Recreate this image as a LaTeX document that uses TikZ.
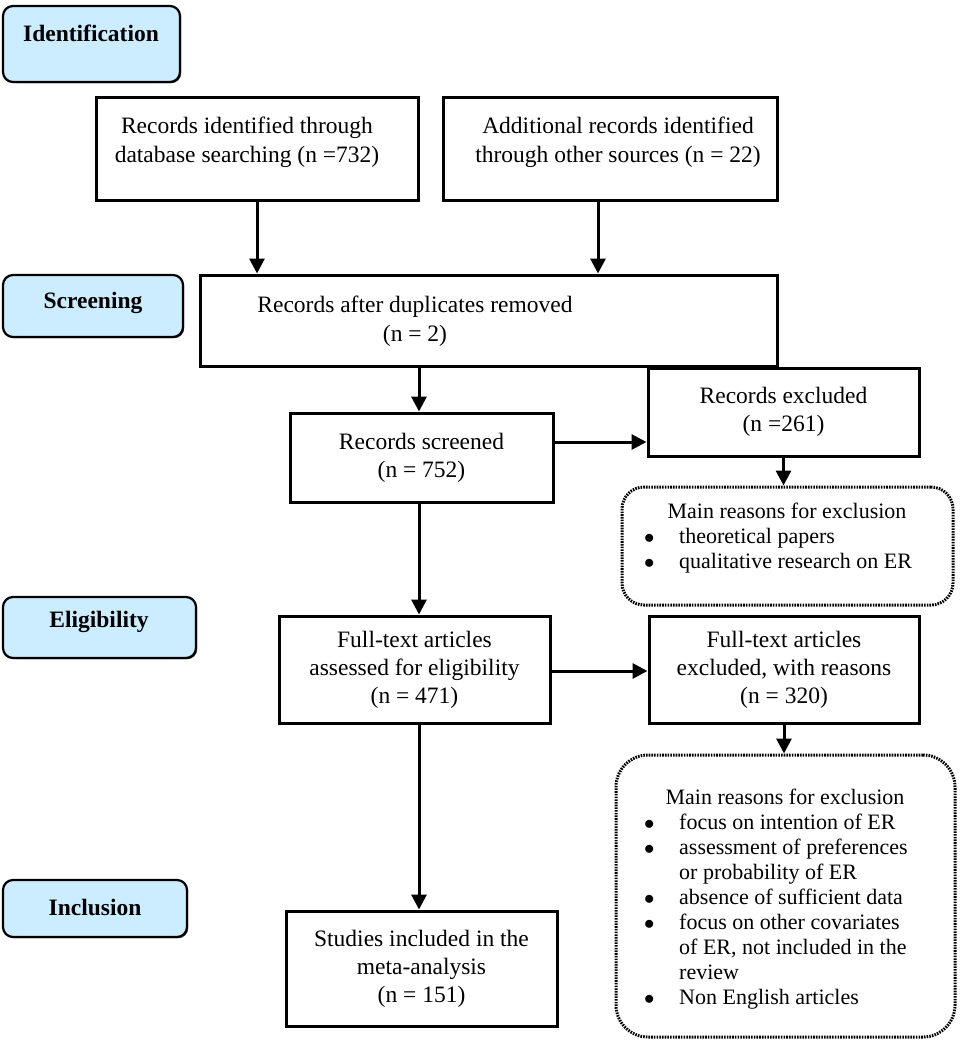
\documentclass[tikz,border=0pt]{standalone}
\usepackage{fontspec}
\setmainfont{Liberation Serif}
\usetikzlibrary{arrows.meta,calc,shadows}
\definecolor{stageblue}{RGB}{204,236,255}
\begin{document}
\begin{tikzpicture}[x=1pt,y=-1pt,
  box/.style={draw, line width=3pt, rectangle, inner sep=0pt, align=center,
    font=\fontsize{23.5}{28}\selectfont},
  txt/.style={align=center, font=\fontsize{23.5}{29}\selectfont, inner sep=0pt},
  stage/.style={draw, line width=2.2pt, rounded corners=10pt, fill=stageblue, inner sep=0pt,
    drop shadow={shadow xshift=1.2pt, shadow yshift=-1.2pt, fill=black!80, opacity=1}},
  stagetxt/.style={font=\fontsize{23.5}{28}\selectfont\bfseries, inner sep=0pt},
  dotbox/.style={draw, line width=3pt, dash pattern=on 1.6pt off 1.1pt, inner sep=0pt},
  dottxt/.style={font=\fontsize{22}{25}\selectfont, inner sep=0pt},
  arr/.style={line width=3pt, -{Triangle[length=15pt,width=15pt]}}]
\useasboundingbox (0,0) rectangle (964,1045);

% stage labels
\node[stage, minimum width=177pt, minimum height=76pt] (s1) at (91.5,44) {};
\node[stagetxt] (s1t) at (91,33) {Identification};
\node[stage, minimum width=180pt, minimum height=62pt] (s2) at (93,306) {};
\node[stagetxt] (s2t) at (93,303) {Screening};
\node[stage, minimum width=193pt, minimum height=61pt] (s3) at (99.5,627.5) {};
\node[stagetxt] (s3t) at (99,622) {Eligibility};
\node[stage, minimum width=184pt, minimum height=57pt] (s4) at (95,908.5) {};
\node[stagetxt] (s4t) at (95,907) {Inclusion};

% boxes
\node[box, minimum width=322pt, minimum height=103pt] (a) at (257,148.5) {};
\node[txt] (at) at (247,142) {Records identified through\\database searching (n =732)};
\node[box, minimum width=334pt, minimum height=103pt] (b) at (610,148.5) {};
\node[txt] (bt) at (618,142) {Additional records identified\\through other sources (n = 22)};
\node[box, minimum width=577pt, minimum height=91pt] (c) at (488.5,320.5) {};
\node[txt] (ct) at (415,321) {Records after duplicates removed\\(n = 2)};
\node[box, minimum width=263pt, minimum height=89pt] (d) at (421.5,457.5) {Records screened\\(n = 752)};
\node[box, minimum width=271pt, minimum height=88pt] (e) at (783.5,412) {Records excluded\\(n =261)};
\node[dotbox, rounded corners=22pt, minimum width=331pt, minimum height=118pt] (f) at (787.5,546) {};
\node[dottxt, anchor=base] (fh) at (787,518) {Main reasons for exclusion};
\node[dottxt, anchor=base west] (fl) at (644,543) {\begin{tabular}[t]{@{}p{35pt}@{}l@{}}
$\bullet$ & theoretical papers\\
$\bullet$ & qualitative research on ER
\end{tabular}};
\node[box, minimum width=271pt, minimum height=107pt] (g) at (414.5,669.5) {Full-text articles\\assessed for eligibility\\(n = 471)};
\node[box, minimum width=270pt, minimum height=107pt] (h) at (784,669.5) {Full-text articles\\excluded, with reasons\\(n = 320)};
\node[dotbox, rounded corners=32pt, minimum width=339pt, minimum height=282pt] (i) at (785.5,896) {};
\node[dottxt, anchor=base] (ih) at (785,804) {Main reasons for exclusion};
\node[dottxt, anchor=base west] (il) at (644,829) {\begin{tabular}[t]{@{}p{35pt}@{}l@{}}
$\bullet$ & focus on intention of ER\\
$\bullet$ & assessment of preferences\\
 & or probability of ER\\
$\bullet$ & absence of sufficient data\\
$\bullet$ & focus on other covariates\\
 & of ER, not included in the\\
 & review\\
$\bullet$ & Non English articles
\end{tabular}};
\node[box, minimum width=271pt, minimum height=115pt] (j) at (421.5,968.5) {Studies included in the\\meta-analysis\\(n = 151)};

% connectors
\coordinate (vx) at (419,0);
\draw[arr] (a.south) -- (a.south |- c.north);
\draw[arr] ($(b.south)+(-12,0)$) coordinate (bs) -- (bs |- c.north);
\draw[arr] (vx |- c.south) -- (vx |- d.north);
\draw[arr] ($(d.east)+(0,-15.5)$) coordinate (de) -- (de -| e.west);
\draw[arr] (e.south) -- (e.south |- f.north);
\draw[arr] (vx |- d.south) -- (vx |- g.north);
\draw[arr] ($(g.east)+(0,1.5)$) coordinate (ge) -- (ge -| h.west);
\draw[arr] (h.south) -- (h.south |- i.north);
\draw[arr] (vx |- g.south) -- (vx |- j.north);
\end{tikzpicture}
\end{document}
